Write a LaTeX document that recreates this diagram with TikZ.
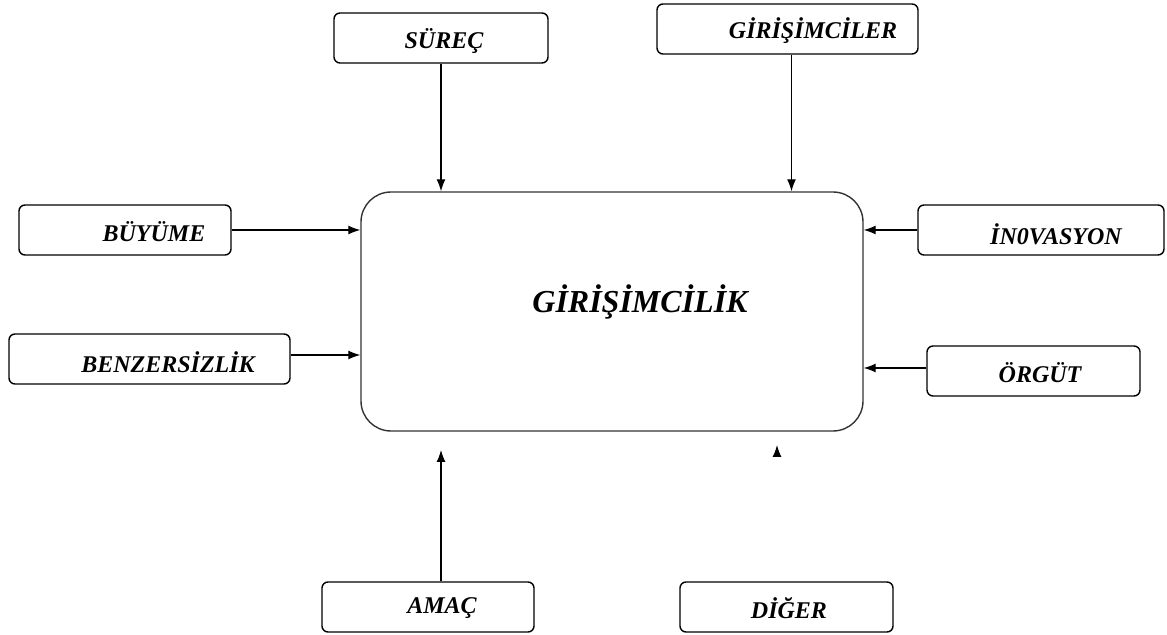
\documentclass[tikz,border=0pt]{standalone}
\usepackage{fontspec}
\setmainfont{Liberation Serif}
\usetikzlibrary{arrows.meta}
\begin{document}
\begin{tikzpicture}[x=0.5pt, y=-0.5pt,
  kutu/.style={draw, rounded corners=3pt, line width=0.7pt, minimum height=25pt, inner sep=0pt},
  yazi/.style={font=\fontsize{12}{14}\selectfont\bfseries\itshape},
  ok/.style={line width=0.6pt, -{Latex[length=6pt, width=4.5pt]}}]
\useasboundingbox (0,0) rectangle (1167,635);
% ana kutu
\node[draw=black!80, rounded corners=15pt, line width=0.7pt, minimum width=251pt, minimum height=119.5pt] (merkez) at (612,311.5) {};
\node[yazi, font=\fontsize{16}{19}\selectfont\bfseries\itshape] (merkez-t) at (640,302) {GİRİŞİMCİLİK};
% kutular
\node[kutu, minimum width=107pt] (surec) at (441,38) {};
\node[yazi] (surec-t) at (444,41) {SÜREÇ};
\node[kutu, minimum width=130.5pt] (girisimciler) at (787.5,29) {};
\node[yazi] (girisimciler-t) at (813,31) {GİRİŞİMCİLER};
\node[kutu, minimum width=106pt] (buyume) at (125,230) {};
\node[yazi] (buyume-t) at (154,232) {BÜYÜME};
\node[kutu, minimum width=140.5pt] (benzer) at (149.5,359) {};
\node[yazi] (benzer-t) at (168,362) {BENZERSİZLİK};
\node[kutu, minimum width=123pt] (inov) at (1041,230) {};
\node[yazi] (inov-t) at (1056,234) {İN0VASYON};
\node[kutu, minimum width=106.5pt] (orgut) at (1033.5,371) {};
\node[yazi] (orgut-t) at (1040,373) {ÖRGÜT};
\node[kutu, minimum width=106pt] (amac) at (428,607) {};
\node[yazi] (amac-t) at (442,608) {AMAÇ};
\node[kutu, minimum width=106.5pt] (diger) at (786.5,607) {};
\node[yazi] (diger-t) at (789,608) {DİĞER};
% oklar
\draw[ok] (surec) -- (surec |- merkez.north);
\draw[ok] ([xshift=2pt]girisimciler.south) -- ([xshift=2pt]girisimciler.south |- merkez.north);
\draw[ok] (buyume.east) -- (buyume.east -| merkez.west);
\draw[ok] ([yshift=2pt]benzer.east) -- ([yshift=2pt]benzer.east -| merkez.west);
\draw[ok] (inov.west) -- (inov.west -| merkez.east);
\draw[ok] ([yshift=1.5pt]orgut.west) -- ([yshift=1.5pt]orgut.west -| merkez.east);
\coordinate (amac-uc) at (441,450);
\draw[ok] (amac.north -| amac-uc) -- (amac-uc);
\coordinate (diger-uc) at (777,445);
\draw[ok] ([yshift=-6pt]diger-uc) -- (diger-uc);
\end{tikzpicture}
\end{document}
